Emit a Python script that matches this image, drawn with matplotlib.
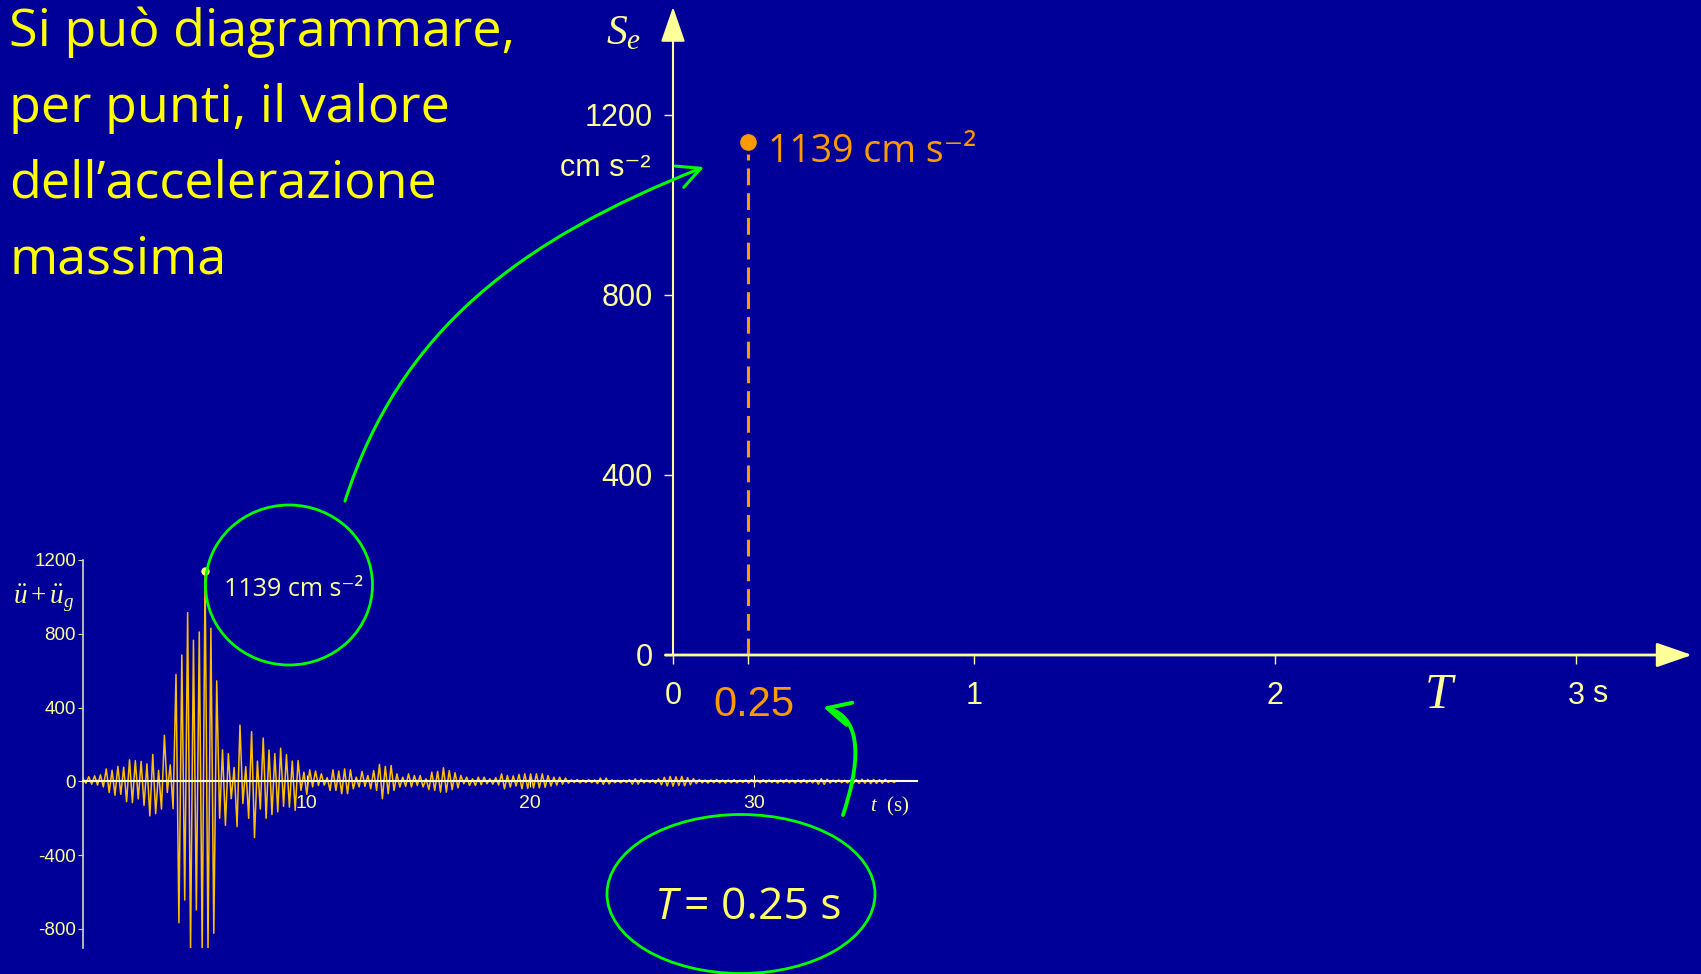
import numpy as np
import matplotlib.pyplot as plt
from matplotlib.patches import Ellipse, FancyArrowPatch
from matplotlib.path import Path

plt.rcParams['mathtext.fontset'] = 'custom'
plt.rcParams['mathtext.rm'] = 'Liberation Serif'
plt.rcParams['mathtext.it'] = 'Liberation Serif:italic'
plt.rcParams['axes.unicode_minus'] = False

bg = '#000099'
pale = '#FFFF99'
orange = '#FF9900'
green = '#00FF00'
comic = ['Open Sans', 'DejaVu Sans']
arial = ['Liberation Sans', 'DejaVu Sans']

#%% data

# total acceleration of the oscillator, one value per half cycle (cm s-2)
half_period = 0.13
acc_peaks = [
    15, -10, 25, -15, 30, -20, 35, -30,
    68, -60, 60, -75, 81, -70, 77, -110,
    117, -115, 113, -95, 108, -130, 95, -187,
    146, -175, 60, -150, 250, -60, 90, -148,
    580, -766, 685, -643, 915, -905, 765, -697,
    810, -908, 1139, -908, 830, -823, 545, -200,
    171, -238, 150, -94, 75, -245, 305, -120,
    80, -200, 270, -305, 110, -150, 235, -200,
    170, -180, 150, -165, 180, -135, 145, -140,
    110, -157, 113, -49, 50, -70, 63, -30,
    56, -22, 41, -20, 20, -49, 63, -49,
    56, -67, 68, -67, 63, -40, 23, -30,
    54, -27, 32, -40, 59, -49, 92, -94,
    81, -67, 86, -49, 41, -31, 23, -27,
    41, -30, 32, -22, 32, -30, 14, -45,
    50, -49, 54, -58, 74, -58, 59, -45,
    47, -35, 32, -13, 23, -22, 14, -22,
    23, -18, 23, -13, 14, -15, 20, -20,
    41, -40, 32, -31, 30, -25, 38, -40,
    41, -38, 41, -35, 41, -35, 41, -32,
    32, -25, 23, -20, 23, -15, 18, -10,
    8, -6, 10, -8, 7, -6, 9, -7,
    8, -12, 18, -16, 18, -14, 8, -7,
    6, -8, 7, -6, 9, -15, 14, -15,
    12, -8, 7, -6, 8, -10,
    14, -18, 22, -25, 27, -26, 25, -22,
    27, -24, 20, -18, 15, -12, 10, -8,
    7, -9, 8, -7, 10, -8, 7, -9,
    8, -7, 9, -8, 7, -6, 8, -9,
    10, -8, 7, -8, 9, -7, 8, -6,
    7, -9, 8, -7, 10, -8, 7, -9,
    8, -7, 9, -8, 7, -8,
    10, -15, 14, -16, 12, -9,
    7, -6, 8, -7, 6, -8, 7,
    -11, 10, -11, 12, -10, 11, -12, 10, -11, 9, -10, 11,
    -6, 5, -6, 4,
]
t_acc = np.arange(len(acc_peaks)) * half_period
acc_ticks = [-800, -400, 0, 400, 800, 1200]
t_ticks = [10, 20, 30]

# spectrum point for T = 0.25 s
T_sel = 0.25
Se_sel = 1139
Se_ticks = [0, 400, 800, 1200]
T_ticks = [0, 0.25, 1, 2, 3]
T_ticklabels = ['0', '', '1', '2', '3']

title_lines = ['Si può diagrammare,', 'per punti, il valore',
               'dell’accelerazione', 'massima']

#%% figure

W, H = 1701, 974
fig = plt.figure(figsize=(W / 100, H / 100), dpi=100, facecolor=bg)


def box(x0, y0, x1, y1):
    # pixel box measured from the top-left corner -> figure fraction
    return [x0 / W, 1 - y1 / H, (x1 - x0) / W, (y1 - y0) / H]


#%% spectrum axes

ax = fig.add_axes(box(673, 7, 1692, 655))
ax.set_facecolor('none')
ax.set_xlim(0, 3.385)
ax.set_ylim(0, 1440)
for s in ax.spines.values():
    s.set_visible(False)

ax.annotate('', xy=(0, 1440), xytext=(0, 0),
            arrowprops=dict(arrowstyle='-|>,head_length=1.1,head_width=0.38',
                            color=pale, lw=1.5, mutation_scale=20,
                            shrinkA=0, shrinkB=0), annotation_clip=False)
ax.annotate('', xy=(3.385, 0), xytext=(-0.025, 0),
            arrowprops=dict(arrowstyle='-|>,head_length=1.1,head_width=0.38',
                            color=pale, lw=2, mutation_scale=20,
                            shrinkA=0, shrinkB=0), annotation_clip=False)

ax.set_yticks(Se_ticks)
ax.set_xticks(T_ticks, T_ticklabels)
ax.tick_params(axis='y', length=6.5, width=1, color=pale, labelcolor=pale,
               labelsize=22, pad=8)
ax.tick_params(axis='x', length=6.5, width=1, color=pale, labelcolor=pale,
               labelsize=22, pad=12)
for lab in ax.get_xticklabels() + ax.get_yticklabels():
    lab.set_family(arial)
ax.annotate('s', xy=(3, 0), xytext=(17, -28), textcoords='offset points',
            ha='center', va='center', fontsize=22, color=pale, family=arial)

ax.plot([T_sel, T_sel], [0, Se_sel - 25], color=orange, lw=2.2,
        dashes=(5.5, 2.6))
ax.plot(T_sel, Se_sel, 'o', ms=11, color=orange, zorder=5)
ax.annotate(f'{Se_sel} cm s⁻²', xy=(T_sel, Se_sel), xytext=(14, -7),
            textcoords='offset points', ha='left', va='center',
            fontsize=27, color=orange, family=comic)
ax.annotate(f'{T_sel}', xy=(T_sel, 0), xytext=(4, -36),
            textcoords='offset points', ha='center', va='center',
            fontsize=30, color=orange, family=arial)

#%% accelerogram axes

ins = fig.add_axes(box(83, 560, 917, 948))
ins.set_facecolor('none')
ins.set_xlim(0, 37.3)
ins.set_ylim(-903, 1200)
ins.plot(t_acc, acc_peaks, color='#FFC000', lw=1.1)
i_max = int(np.argmax(acc_peaks))
ins.plot(t_acc[i_max], acc_peaks[i_max], 'o', ms=5, color='#FFFF66',
         zorder=5)

ins.spines['top'].set_visible(False)
ins.spines['right'].set_visible(False)
ins.spines['bottom'].set_position(('data', 0))
ins.spines['bottom'].set_color('#FFFFCC')
ins.spines['bottom'].set_linewidth(1.5)
ins.spines['left'].set_color('#D8D8B8')
ins.spines['left'].set_linewidth(1.2)
ins.set_yticks(acc_ticks)
ins.set_xticks(t_ticks)
ins.tick_params(axis='y', length=3.5, color='#D8D8B8', labelcolor=pale,
                labelsize=13.5, pad=1.5)
ins.tick_params(axis='x', direction='inout', length=8, color='#FFFFCC',
                labelcolor=pale, labelsize=14, pad=6)
for lab in ins.get_xticklabels() + ins.get_yticklabels():
    lab.set_family(arial)

#%% text and sketch marks on top, in pixel units

ov = fig.add_axes([0, 0, 1, 1])
ov.set_xlim(0, W)
ov.set_ylim(H, 0)
ov.axis('off')
ov.set_facecolor('none')

for i, line in enumerate(title_lines):
    ov.text(9, 46 + 76 * i, line, fontsize=37.5, color='#FFFF00',
            family=comic, ha='left', va='baseline')

ov.text(624, 32, r'$S_e$', fontsize=30, color=pale, ha='center',
        va='center')
ov.text(651, 168, 'cm s⁻²', fontsize=22, color=pale, ha='right',
        va='center', family=arial)
ov.text(1440, 694, r'$T$', fontsize=36, color=pale, ha='center',
        va='center')
ov.text(44, 598, r'$\ddot{u}+\ddot{u}_g$', fontsize=19.5, color=pale,
        ha='center', va='center')
ov.text(890, 806, r'$t$  (s)', fontsize=15, color=pale, ha='center',
        va='center', family='Liberation Serif')
ov.text(294, 589, f'{Se_sel} cm s⁻²', fontsize=18, color=pale,
        ha='center', va='center', family=comic)
ov.text(655, 919, 'T', fontsize=32, color='#FFFF66', style='italic',
        ha='left', va='baseline', family=comic)
ov.text(684, 919, f'= {T_sel} s', fontsize=32, color='#FFFF66',
        ha='left', va='baseline', family=comic)

ov.add_patch(Ellipse((289, 585), 167, 160, fill=False, ec=green, lw=2))
ov.add_patch(Ellipse((741, 894), 268, 159, fill=False, ec=green, lw=2))

head = '->,head_length=1.1,head_width=0.55'
p1 = Path([(345, 501), (400, 330), (520, 240), (704, 167)],
          [Path.MOVETO, Path.CURVE4, Path.CURVE4, Path.CURVE4])
ov.add_patch(FancyArrowPatch(path=p1, arrowstyle=head, color=green, lw=2.2,
                             mutation_scale=15))
p2 = Path([(843, 815), (858, 770), (866, 718), (823, 707)],
          [Path.MOVETO, Path.CURVE4, Path.CURVE4, Path.CURVE4])
ov.add_patch(FancyArrowPatch(path=p2, arrowstyle=head, color=green, lw=2.8,
                             mutation_scale=15))

fig.savefig('out.png', dpi=100, facecolor=bg)
